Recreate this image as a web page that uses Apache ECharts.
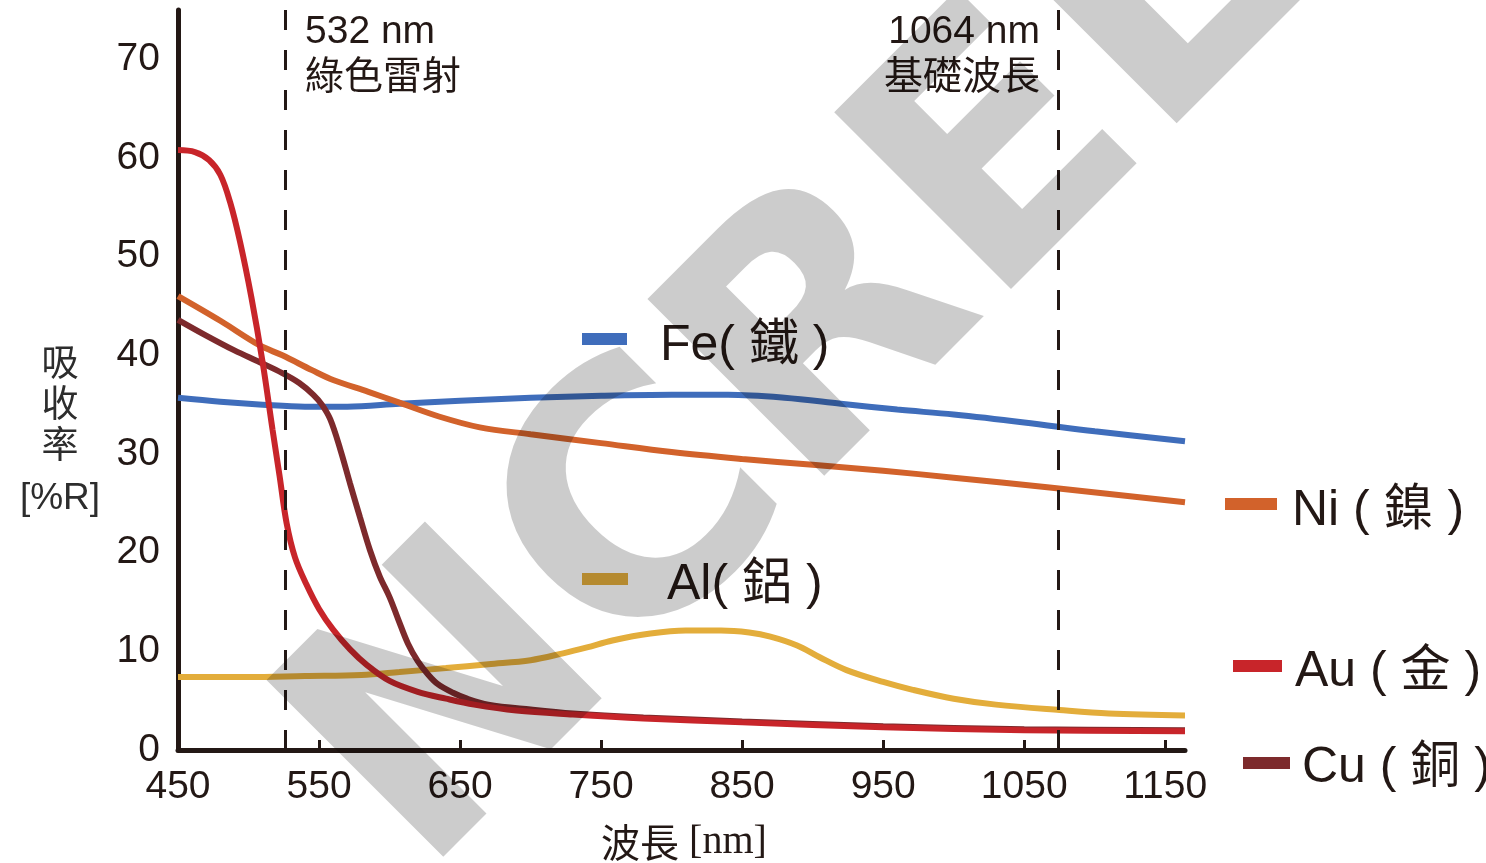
<!DOCTYPE html>
<html>
<head>
<meta charset="utf-8">
<script src="https://cdn.jsdelivr.net/npm/echarts@6/dist/echarts.min.js"></script>
<style>
  html, body { margin: 0; padding: 0; background: #fff; }
  #main { width: 1486px; height: 863px; }
</style>
</head>
<body>
<div id="main"></div>
<script>
// 波長 [nm] vs 吸收率 [%R]
const xTicks = [450, 550, 650, 750, 850, 950, 1050, 1150];
const yTicks = [0, 10, 20, 30, 40, 50, 60, 70];

// dashed markers, placed where the picture draws them
const laserLines = [526, 1074];

const feData = [[450, 35.7], [480, 35.3], [510, 35.0], [540, 34.8], [570, 34.8], [607, 35.1], [650, 35.4],
  [700, 35.7], [750, 35.9], [800, 36.0], [840, 36.0], [880, 35.7], [920, 35.1], [960, 34.5], [1000, 34.0],
  [1050, 33.2], [1100, 32.3], [1164, 31.3]];

const niData = [[450, 46.0], [480, 43.5], [508, 41.0], [524, 40.0], [545, 38.5], [560, 37.5], [585, 36.3],
  [607, 35.2], [635, 33.8], [664, 32.7], [700, 32.0], [750, 31.1], [800, 30.2], [850, 29.5], [900, 28.9],
  [950, 28.3], [1000, 27.6], [1068, 26.6], [1164, 25.1]];

const alData = [[450, 7.4], [500, 7.4], [540, 7.5], [580, 7.6], [607, 7.9], [640, 8.3], [670, 8.7],
  [700, 9.1], [723, 9.8], [740, 10.4], [758, 11.1], [785, 11.8], [810, 12.1], [835, 12.1], [855, 11.9],
  [870, 11.5], [889, 10.6], [905, 9.4], [924, 8.1], [950, 6.9], [971, 6.1], [1000, 5.2], [1030, 4.6],
  [1075, 4.05], [1110, 3.7], [1164, 3.5]];

const auData = [[450, 60.8], [462, 60.6], [472, 59.8], [480, 58.3], [487, 55.5], [494, 51.5], [502, 45.9],
  [510, 39.3], [517, 32.5], [522, 27.8], [527, 23.0], [533, 19.5], [541, 16.8], [550, 14.3], [560, 12.2],
  [572, 10.2], [584, 8.6], [600, 7.0], [620, 5.9], [640, 5.2], [660, 4.6], [690, 4.0], [730, 3.6],
  [780, 3.2], [850, 2.8], [950, 2.3], [1050, 2.0], [1164, 1.9]];

const cuData = [[450, 43.6], [470, 42.0], [490, 40.5], [508, 39.3], [524, 38.2], [536, 37.2], [546, 36.0],
  [552, 35.0], [558, 33.5], [565, 30.5], [572, 27.0], [579, 23.6], [586, 20.3], [593, 17.6], [600, 15.5],
  [606, 13.3], [613, 10.8], [620, 9.0], [627, 7.7], [634, 6.7], [645, 5.8], [655, 5.2], [670, 4.6],
  [700, 4.1], [730, 3.7], [780, 3.3], [850, 2.9], [950, 2.4], [1050, 2.1], [1164, 2.0]];

const colors = {
  fe: '#3f6dbb',
  ni: '#d2622b',
  al: '#e3ad3b',
  au: '#c8252a',
  cu: '#7d2a2c'
};
const ink = '#231815';
const sans = '"Liberation Sans", "Noto Sans CJK TC", sans-serif';

const chartDom = document.getElementById('main');
const myChart = echarts.init(chartDom);

const makeSeries = (name, data, color, extra) => Object.assign({
  name: name,
  type: 'line',
  data: data,
  showSymbol: false,
  smooth: 0.35,
  lineStyle: { color: color, width: 6 },
  itemStyle: { color: color },
  silent: true
}, extra || {});

// legend blocks (swatch + label)
const legendItem = (rect, label, color) => [
  { type: 'rect', shape: rect, style: { fill: color }, z: 50 },
  {
    type: 'text', x: label.x, y: label.y, z: 50,
    style: {
      text: label.text, fill: ink, fontSize: 50, fontFamily: sans,
      textAlign: 'left', textVerticalAlign: 'middle', align: 'left', verticalAlign: 'middle'
    }
  }
];

const option = {
  backgroundColor: '#fff',
  animation: false,
  grid: { left: 178, right: 301, top: 10, bottom: 113, containLabel: false, outerBoundsMode: 'none' },
  xAxis: {
    type: 'value',
    min: 450,
    max: 1164,
    splitLine: { show: false },
    axisLine: { show: true, onZero: false, lineStyle: { color: ink, width: 5 } },
    axisTick: { show: true, inside: true, length: 10, customValues: xTicks, lineStyle: { color: ink, width: 3 } },
    axisLabel: {
      customValues: xTicks, color: ink, fontSize: 39, fontFamily: sans, margin: 18,
      formatter: v => String(v)
    }
  },
  yAxis: {
    type: 'value',
    min: 0,
    max: 75,
    splitLine: { show: false },
    axisLine: { show: true, lineStyle: { color: ink, width: 5 } },
    axisTick: { show: false },
    axisLabel: { customValues: yTicks, color: ink, fontSize: 39, fontFamily: sans, margin: 18 }
  },
  series: [
    makeSeries('Al', alData, colors.al, {
      markLine: {
        silent: true,
        symbol: 'none',
        label: { show: false },
        lineStyle: { color: ink, width: 3, type: [20, 20] },
        data: laserLines.map(v => ({ xAxis: v }))
      }
    }),
    makeSeries('Fe', feData, colors.fe),
    makeSeries('Ni', niData, colors.ni),
    makeSeries('Cu', cuData, colors.cu),
    makeSeries('Au', auData, colors.au)
  ],
  graphic: [
    {
      type: 'text', x: 305, y: 9, z: 50,
      style: {
        text: '532 nm\n綠色雷射', fill: ink, fontSize: 39, lineHeight: 46, fontFamily: sans,
        textAlign: 'left', textVerticalAlign: 'top', align: 'left', verticalAlign: 'top'
      }
    },
    {
      type: 'text', x: 1040, y: 9, z: 50,
      style: {
        text: '1064 nm\n基礎波長', fill: ink, fontSize: 39, lineHeight: 46, fontFamily: sans,
        textAlign: 'right', textVerticalAlign: 'top', align: 'right', verticalAlign: 'top'
      }
    },
    {
      type: 'text', x: 60, y: 345, z: 50,
      style: {
        text: '吸\n收\n率', fill: '#2d2d2d', fontSize: 37, lineHeight: 41, fontFamily: sans,
        textAlign: 'center', textVerticalAlign: 'top', align: 'center', verticalAlign: 'top'
      }
    },
    {
      type: 'text', x: 60, y: 499, z: 50,
      style: {
        text: '[%R]', fill: '#2d2d2d', fontSize: 37, fontFamily: sans,
        textAlign: 'center', textVerticalAlign: 'middle', align: 'center', verticalAlign: 'middle'
      }
    },
    {
      type: 'text', x: 684, y: 842, z: 50,
      style: {
        text: '{a|波長}{b|\u00a0[nm]}',
        rich: {
          a: { fontSize: 39, fontFamily: '"Noto Sans CJK TC", sans-serif', fill: ink },
          b: { fontSize: 40, fontFamily: '"Liberation Serif", serif', fill: ink }
        },
        textAlign: 'center', textVerticalAlign: 'middle', align: 'center', verticalAlign: 'middle'
      }
    },
    ...legendItem({ x: 582, y: 333, width: 45, height: 12 }, { x: 660, y: 346, text: 'Fe( 鐵 )' }, colors.fe),
    ...legendItem({ x: 582, y: 573, width: 46, height: 12 }, { x: 667, y: 585, text: 'Al( 鋁 )' }, colors.al),
    ...legendItem({ x: 1225, y: 498, width: 52, height: 12 }, { x: 1292, y: 511, text: 'Ni ( 鎳 )' }, colors.ni),
    ...legendItem({ x: 1233, y: 660, width: 49, height: 12 }, { x: 1295, y: 672, text: 'Au ( 金 )' }, colors.au),
    ...legendItem({ x: 1243, y: 757, width: 47, height: 12 }, { x: 1302, y: 768, text: 'Cu ( 銅 )' }, colors.cu),
    // watermark laid over everything
    {
      type: 'text', x: 358, y: 816, rotation: Math.PI / 4, z: 100, silent: true,
      style: {
        text: 'NCREL', fill: 'rgba(0,0,0,0.2)', fontSize: 343, fontWeight: 'bold',
        fontFamily: '"DejaVu Sans", sans-serif',
        textAlign: 'left', textVerticalAlign: 'middle', align: 'left', verticalAlign: 'middle'
      }
    }
  ]
};

myChart.setOption(option);
</script>
</body>
</html>
